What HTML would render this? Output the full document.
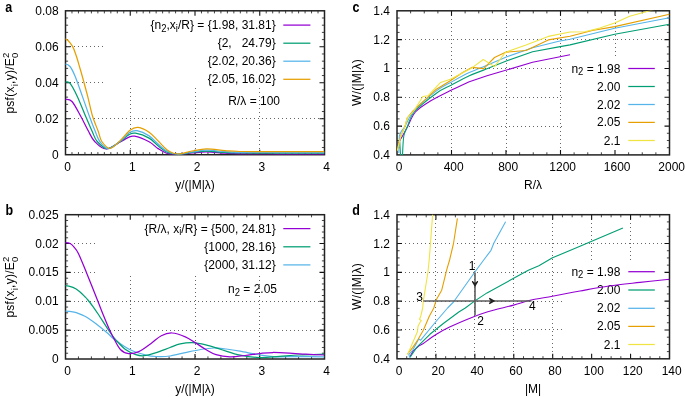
<!DOCTYPE html>
<html><head><meta charset="utf-8"><style>
html,body{margin:0;padding:0;background:#fff;}
body{width:685px;height:397px;overflow:hidden;}
svg{display:block;font-family:"Liberation Sans",sans-serif;will-change:transform;}
text{fill:#000;}
</style></head><body>
<svg width="685" height="397" viewBox="0 0 685 397">
<defs><clipPath id="ca"><rect x="65.5" y="10.8" width="259.0" height="143.89999999999998"/></clipPath>
<clipPath id="cb"><rect x="65.5" y="214.7" width="259.0" height="144.3"/></clipPath>
<clipPath id="cc"><rect x="397" y="10.8" width="272.5" height="144.1"/></clipPath>
<clipPath id="cd"><rect x="397" y="214.7" width="272.5" height="144.10000000000002"/></clipPath></defs>
<line x1="130.5" y1="88" x2="130.5" y2="154.7" stroke="#666" stroke-width="1" stroke-dasharray="1,3"/>
<line x1="195.5" y1="88" x2="195.5" y2="154.7" stroke="#666" stroke-width="1" stroke-dasharray="1,3"/>
<line x1="259.5" y1="88" x2="259.5" y2="154.7" stroke="#666" stroke-width="1" stroke-dasharray="1,3"/>
<line x1="66" y1="82.5" x2="103" y2="82.5" stroke="#666" stroke-width="1" stroke-dasharray="1,3"/>
<line x1="66" y1="46.5" x2="103" y2="46.5" stroke="#666" stroke-width="1" stroke-dasharray="1,3"/>
<line x1="66" y1="118.5" x2="324.5" y2="118.5" stroke="#666" stroke-width="1" stroke-dasharray="1,3"/>
<path d="M130.25,154.7 v-5 M130.25,10.8 v5 M195,154.7 v-5 M195,10.8 v5 M259.75,154.7 v-5 M259.75,10.8 v5 M65.5,118.72 h5 M324.5,118.72 h-5 M65.5,82.75 h5 M324.5,82.75 h-5 M65.5,46.78 h5 M324.5,46.78 h-5 " stroke="#111" stroke-width="1.1" fill="none"/>
<path d="M71.97,154.7 v-2.6 M71.97,10.8 v2.6 M78.45,154.7 v-2.6 M78.45,10.8 v2.6 M84.93,154.7 v-2.6 M84.93,10.8 v2.6 M91.4,154.7 v-2.6 M91.4,10.8 v2.6 M97.88,154.7 v-2.6 M97.88,10.8 v2.6 M104.35,154.7 v-2.6 M104.35,10.8 v2.6 M110.83,154.7 v-2.6 M110.83,10.8 v2.6 M117.3,154.7 v-2.6 M117.3,10.8 v2.6 M123.78,154.7 v-2.6 M123.78,10.8 v2.6 M136.73,154.7 v-2.6 M136.73,10.8 v2.6 M143.2,154.7 v-2.6 M143.2,10.8 v2.6 M149.68,154.7 v-2.6 M149.68,10.8 v2.6 M156.15,154.7 v-2.6 M156.15,10.8 v2.6 M162.62,154.7 v-2.6 M162.62,10.8 v2.6 M169.1,154.7 v-2.6 M169.1,10.8 v2.6 M175.58,154.7 v-2.6 M175.58,10.8 v2.6 M182.05,154.7 v-2.6 M182.05,10.8 v2.6 M188.53,154.7 v-2.6 M188.53,10.8 v2.6 M201.47,154.7 v-2.6 M201.47,10.8 v2.6 M207.95,154.7 v-2.6 M207.95,10.8 v2.6 M214.43,154.7 v-2.6 M214.43,10.8 v2.6 M220.9,154.7 v-2.6 M220.9,10.8 v2.6 M227.38,154.7 v-2.6 M227.38,10.8 v2.6 M233.85,154.7 v-2.6 M233.85,10.8 v2.6 M240.33,154.7 v-2.6 M240.33,10.8 v2.6 M246.8,154.7 v-2.6 M246.8,10.8 v2.6 M253.28,154.7 v-2.6 M253.28,10.8 v2.6 M266.23,154.7 v-2.6 M266.23,10.8 v2.6 M272.7,154.7 v-2.6 M272.7,10.8 v2.6 M279.18,154.7 v-2.6 M279.18,10.8 v2.6 M285.65,154.7 v-2.6 M285.65,10.8 v2.6 M292.12,154.7 v-2.6 M292.12,10.8 v2.6 M298.6,154.7 v-2.6 M298.6,10.8 v2.6 M305.08,154.7 v-2.6 M305.08,10.8 v2.6 M311.55,154.7 v-2.6 M311.55,10.8 v2.6 M318.03,154.7 v-2.6 M318.03,10.8 v2.6 M65.5,147.5 h2.6 M324.5,147.5 h-2.6 M65.5,140.31 h2.6 M324.5,140.31 h-2.6 M65.5,133.11 h2.6 M324.5,133.11 h-2.6 M65.5,125.92 h2.6 M324.5,125.92 h-2.6 M65.5,111.53 h2.6 M324.5,111.53 h-2.6 M65.5,104.34 h2.6 M324.5,104.34 h-2.6 M65.5,97.14 h2.6 M324.5,97.14 h-2.6 M65.5,89.94 h2.6 M324.5,89.94 h-2.6 M65.5,75.56 h2.6 M324.5,75.56 h-2.6 M65.5,68.36 h2.6 M324.5,68.36 h-2.6 M65.5,61.17 h2.6 M324.5,61.17 h-2.6 M65.5,53.97 h2.6 M324.5,53.97 h-2.6 M65.5,39.58 h2.6 M324.5,39.58 h-2.6 M65.5,32.38 h2.6 M324.5,32.38 h-2.6 M65.5,25.19 h2.6 M324.5,25.19 h-2.6 M65.5,17.99 h2.6 M324.5,17.99 h-2.6 " stroke="#444" stroke-width="1" fill="none"/>
<rect x="65.5" y="10.8" width="259" height="143.9" fill="none" stroke="#222" stroke-width="1.5"/>
<text transform="translate(58.6,158.7) scale(1,1.1)" text-anchor="end" font-size="12" font-weight="normal">0</text>
<text transform="translate(58.6,122.72) scale(1,1.1)" text-anchor="end" font-size="12" font-weight="normal">0.02</text>
<text transform="translate(58.6,86.75) scale(1,1.1)" text-anchor="end" font-size="12" font-weight="normal">0.04</text>
<text transform="translate(58.6,50.78) scale(1,1.1)" text-anchor="end" font-size="12" font-weight="normal">0.06</text>
<text transform="translate(58.6,14.8) scale(1,1.1)" text-anchor="end" font-size="12" font-weight="normal">0.08</text>
<text transform="translate(67.7,171.2) scale(1,1.1)" text-anchor="middle" font-size="12" font-weight="normal">0</text>
<text transform="translate(132.45,171.2) scale(1,1.1)" text-anchor="middle" font-size="12" font-weight="normal">1</text>
<text transform="translate(197.2,171.2) scale(1,1.1)" text-anchor="middle" font-size="12" font-weight="normal">2</text>
<text transform="translate(261.95,171.2) scale(1,1.1)" text-anchor="middle" font-size="12" font-weight="normal">3</text>
<text transform="translate(326.7,171.2) scale(1,1.1)" text-anchor="middle" font-size="12" font-weight="normal">4</text>
<line x1="130.5" y1="276" x2="130.5" y2="359" stroke="#666" stroke-width="1" stroke-dasharray="1,3"/>
<line x1="195.5" y1="276" x2="195.5" y2="359" stroke="#666" stroke-width="1" stroke-dasharray="1,3"/>
<line x1="259.5" y1="276" x2="259.5" y2="359" stroke="#666" stroke-width="1" stroke-dasharray="1,3"/>
<line x1="66" y1="272.5" x2="97" y2="272.5" stroke="#666" stroke-width="1" stroke-dasharray="1,3"/>
<line x1="66" y1="243.5" x2="97" y2="243.5" stroke="#666" stroke-width="1" stroke-dasharray="1,3"/>
<line x1="66" y1="330.5" x2="324.5" y2="330.5" stroke="#666" stroke-width="1" stroke-dasharray="1,3"/>
<line x1="66" y1="301.5" x2="324.5" y2="301.5" stroke="#666" stroke-width="1" stroke-dasharray="1,3"/>
<path d="M130.25,359 v-5 M130.25,214.7 v5 M195,359 v-5 M195,214.7 v5 M259.75,359 v-5 M259.75,214.7 v5 M65.5,330.14 h5 M324.5,330.14 h-5 M65.5,301.28 h5 M324.5,301.28 h-5 M65.5,272.42 h5 M324.5,272.42 h-5 M65.5,243.56 h5 M324.5,243.56 h-5 " stroke="#111" stroke-width="1.1" fill="none"/>
<path d="M78.45,359 v-2.6 M78.45,214.7 v2.6 M91.4,359 v-2.6 M91.4,214.7 v2.6 M104.35,359 v-2.6 M104.35,214.7 v2.6 M117.3,359 v-2.6 M117.3,214.7 v2.6 M143.2,359 v-2.6 M143.2,214.7 v2.6 M156.15,359 v-2.6 M156.15,214.7 v2.6 M169.1,359 v-2.6 M169.1,214.7 v2.6 M182.05,359 v-2.6 M182.05,214.7 v2.6 M207.95,359 v-2.6 M207.95,214.7 v2.6 M220.9,359 v-2.6 M220.9,214.7 v2.6 M233.85,359 v-2.6 M233.85,214.7 v2.6 M246.8,359 v-2.6 M246.8,214.7 v2.6 M272.7,359 v-2.6 M272.7,214.7 v2.6 M285.65,359 v-2.6 M285.65,214.7 v2.6 M298.6,359 v-2.6 M298.6,214.7 v2.6 M311.55,359 v-2.6 M311.55,214.7 v2.6 M65.5,353.23 h2.6 M324.5,353.23 h-2.6 M65.5,347.46 h2.6 M324.5,347.46 h-2.6 M65.5,341.68 h2.6 M324.5,341.68 h-2.6 M65.5,335.91 h2.6 M324.5,335.91 h-2.6 M65.5,324.37 h2.6 M324.5,324.37 h-2.6 M65.5,318.6 h2.6 M324.5,318.6 h-2.6 M65.5,312.82 h2.6 M324.5,312.82 h-2.6 M65.5,307.05 h2.6 M324.5,307.05 h-2.6 M65.5,295.51 h2.6 M324.5,295.51 h-2.6 M65.5,289.74 h2.6 M324.5,289.74 h-2.6 M65.5,283.96 h2.6 M324.5,283.96 h-2.6 M65.5,278.19 h2.6 M324.5,278.19 h-2.6 M65.5,266.65 h2.6 M324.5,266.65 h-2.6 M65.5,260.88 h2.6 M324.5,260.88 h-2.6 M65.5,255.1 h2.6 M324.5,255.1 h-2.6 M65.5,249.33 h2.6 M324.5,249.33 h-2.6 M65.5,237.79 h2.6 M324.5,237.79 h-2.6 M65.5,232.02 h2.6 M324.5,232.02 h-2.6 M65.5,226.24 h2.6 M324.5,226.24 h-2.6 M65.5,220.47 h2.6 M324.5,220.47 h-2.6 " stroke="#444" stroke-width="1" fill="none"/>
<rect x="65.5" y="214.7" width="259" height="144.3" fill="none" stroke="#222" stroke-width="1.5"/>
<text transform="translate(58.6,363) scale(1,1.1)" text-anchor="end" font-size="12" font-weight="normal">0</text>
<text transform="translate(58.6,334.14) scale(1,1.1)" text-anchor="end" font-size="12" font-weight="normal">0.005</text>
<text transform="translate(58.6,305.28) scale(1,1.1)" text-anchor="end" font-size="12" font-weight="normal">0.01</text>
<text transform="translate(58.6,276.42) scale(1,1.1)" text-anchor="end" font-size="12" font-weight="normal">0.015</text>
<text transform="translate(58.6,247.56) scale(1,1.1)" text-anchor="end" font-size="12" font-weight="normal">0.02</text>
<text transform="translate(58.6,218.7) scale(1,1.1)" text-anchor="end" font-size="12" font-weight="normal">0.025</text>
<text transform="translate(67.7,374.8) scale(1,1.1)" text-anchor="middle" font-size="12" font-weight="normal">0</text>
<text transform="translate(132.45,374.8) scale(1,1.1)" text-anchor="middle" font-size="12" font-weight="normal">1</text>
<text transform="translate(197.2,374.8) scale(1,1.1)" text-anchor="middle" font-size="12" font-weight="normal">2</text>
<text transform="translate(261.95,374.8) scale(1,1.1)" text-anchor="middle" font-size="12" font-weight="normal">3</text>
<text transform="translate(326.7,374.8) scale(1,1.1)" text-anchor="middle" font-size="12" font-weight="normal">4</text>
<line x1="451.5" y1="11" x2="451.5" y2="154.9" stroke="#666" stroke-width="1" stroke-dasharray="1,3"/>
<line x1="506.5" y1="11" x2="506.5" y2="154.9" stroke="#666" stroke-width="1" stroke-dasharray="1,3"/>
<line x1="560.5" y1="11" x2="560.5" y2="154.9" stroke="#666" stroke-width="1" stroke-dasharray="1,3"/>
<line x1="615.5" y1="11" x2="615.5" y2="58" stroke="#666" stroke-width="1" stroke-dasharray="1,3"/>
<line x1="397" y1="126.5" x2="562" y2="126.5" stroke="#666" stroke-width="1" stroke-dasharray="1,3"/>
<line x1="397" y1="97.5" x2="562" y2="97.5" stroke="#666" stroke-width="1" stroke-dasharray="1,3"/>
<line x1="397" y1="68.5" x2="562" y2="68.5" stroke="#666" stroke-width="1" stroke-dasharray="1,3"/>
<line x1="397" y1="39.5" x2="669.5" y2="39.5" stroke="#666" stroke-width="1" stroke-dasharray="1,3"/>
<path d="M451.5,154.9 v-5 M451.5,10.8 v5 M506,154.9 v-5 M506,10.8 v5 M560.5,154.9 v-5 M560.5,10.8 v5 M615,154.9 v-5 M615,10.8 v5 M397,126.08 h5 M669.5,126.08 h-5 M397,97.26 h5 M669.5,97.26 h-5 M397,68.44 h5 M669.5,68.44 h-5 M397,39.62 h5 M669.5,39.62 h-5 " stroke="#111" stroke-width="1.1" fill="none"/>
<path d="M410.62,154.9 v-2.6 M410.62,10.8 v2.6 M424.25,154.9 v-2.6 M424.25,10.8 v2.6 M437.88,154.9 v-2.6 M437.88,10.8 v2.6 M465.12,154.9 v-2.6 M465.12,10.8 v2.6 M478.75,154.9 v-2.6 M478.75,10.8 v2.6 M492.38,154.9 v-2.6 M492.38,10.8 v2.6 M519.62,154.9 v-2.6 M519.62,10.8 v2.6 M533.25,154.9 v-2.6 M533.25,10.8 v2.6 M546.88,154.9 v-2.6 M546.88,10.8 v2.6 M574.12,154.9 v-2.6 M574.12,10.8 v2.6 M587.75,154.9 v-2.6 M587.75,10.8 v2.6 M601.38,154.9 v-2.6 M601.38,10.8 v2.6 M628.62,154.9 v-2.6 M628.62,10.8 v2.6 M642.25,154.9 v-2.6 M642.25,10.8 v2.6 M655.88,154.9 v-2.6 M655.88,10.8 v2.6 M397,147.69 h2.6 M669.5,147.69 h-2.6 M397,140.49 h2.6 M669.5,140.49 h-2.6 M397,133.28 h2.6 M669.5,133.28 h-2.6 M397,118.88 h2.6 M669.5,118.88 h-2.6 M397,111.67 h2.6 M669.5,111.67 h-2.6 M397,104.47 h2.6 M669.5,104.47 h-2.6 M397,90.05 h2.6 M669.5,90.05 h-2.6 M397,82.85 h2.6 M669.5,82.85 h-2.6 M397,75.65 h2.6 M669.5,75.65 h-2.6 M397,61.23 h2.6 M669.5,61.23 h-2.6 M397,54.03 h2.6 M669.5,54.03 h-2.6 M397,46.82 h2.6 M669.5,46.82 h-2.6 M397,32.42 h2.6 M669.5,32.42 h-2.6 M397,25.21 h2.6 M669.5,25.21 h-2.6 M397,18 h2.6 M669.5,18 h-2.6 " stroke="#444" stroke-width="1" fill="none"/>
<rect x="397" y="10.8" width="272.5" height="144.1" fill="none" stroke="#222" stroke-width="1.5"/>
<text transform="translate(390,158.9) scale(1,1.1)" text-anchor="end" font-size="12" font-weight="normal">0.4</text>
<text transform="translate(390,130.08) scale(1,1.1)" text-anchor="end" font-size="12" font-weight="normal">0.6</text>
<text transform="translate(390,101.26) scale(1,1.1)" text-anchor="end" font-size="12" font-weight="normal">0.8</text>
<text transform="translate(390,72.44) scale(1,1.1)" text-anchor="end" font-size="12" font-weight="normal">1</text>
<text transform="translate(390,43.62) scale(1,1.1)" text-anchor="end" font-size="12" font-weight="normal">1.2</text>
<text transform="translate(390,14.8) scale(1,1.1)" text-anchor="end" font-size="12" font-weight="normal">1.4</text>
<text transform="translate(399.2,171.2) scale(1,1.1)" text-anchor="middle" font-size="12" font-weight="normal">0</text>
<text transform="translate(453.7,171.2) scale(1,1.1)" text-anchor="middle" font-size="12" font-weight="normal">400</text>
<text transform="translate(508.2,171.2) scale(1,1.1)" text-anchor="middle" font-size="12" font-weight="normal">800</text>
<text transform="translate(562.7,171.2) scale(1,1.1)" text-anchor="middle" font-size="12" font-weight="normal">1200</text>
<text transform="translate(617.2,171.2) scale(1,1.1)" text-anchor="middle" font-size="12" font-weight="normal">1600</text>
<text transform="translate(671.7,171.2) scale(1,1.1)" text-anchor="middle" font-size="12" font-weight="normal">2000</text>
<line x1="435.5" y1="215" x2="435.5" y2="358.8" stroke="#666" stroke-width="1" stroke-dasharray="1,3"/>
<line x1="474.5" y1="215" x2="474.5" y2="358.8" stroke="#666" stroke-width="1" stroke-dasharray="1,3"/>
<line x1="513.5" y1="215" x2="513.5" y2="358.8" stroke="#666" stroke-width="1" stroke-dasharray="1,3"/>
<line x1="552.5" y1="215" x2="552.5" y2="358.8" stroke="#666" stroke-width="1" stroke-dasharray="1,3"/>
<line x1="591.5" y1="215" x2="591.5" y2="263" stroke="#666" stroke-width="1" stroke-dasharray="1,3"/>
<line x1="630.5" y1="215" x2="630.5" y2="263" stroke="#666" stroke-width="1" stroke-dasharray="1,3"/>
<line x1="397" y1="329.5" x2="562" y2="329.5" stroke="#666" stroke-width="1" stroke-dasharray="1,3"/>
<line x1="397" y1="301.5" x2="562" y2="301.5" stroke="#666" stroke-width="1" stroke-dasharray="1,3"/>
<line x1="397" y1="272.5" x2="562" y2="272.5" stroke="#666" stroke-width="1" stroke-dasharray="1,3"/>
<line x1="397" y1="243.5" x2="669.5" y2="243.5" stroke="#666" stroke-width="1" stroke-dasharray="1,3"/>
<path d="M435.93,358.8 v-5 M435.93,214.7 v5 M474.86,358.8 v-5 M474.86,214.7 v5 M513.79,358.8 v-5 M513.79,214.7 v5 M552.71,358.8 v-5 M552.71,214.7 v5 M591.64,358.8 v-5 M591.64,214.7 v5 M630.57,358.8 v-5 M630.57,214.7 v5 M397,329.98 h5 M669.5,329.98 h-5 M397,301.16 h5 M669.5,301.16 h-5 M397,272.34 h5 M669.5,272.34 h-5 M397,243.52 h5 M669.5,243.52 h-5 " stroke="#111" stroke-width="1.1" fill="none"/>
<path d="M406.73,358.8 v-2.6 M406.73,214.7 v2.6 M416.46,358.8 v-2.6 M416.46,214.7 v2.6 M426.2,358.8 v-2.6 M426.2,214.7 v2.6 M445.66,358.8 v-2.6 M445.66,214.7 v2.6 M455.39,358.8 v-2.6 M455.39,214.7 v2.6 M465.12,358.8 v-2.6 M465.12,214.7 v2.6 M484.59,358.8 v-2.6 M484.59,214.7 v2.6 M494.32,358.8 v-2.6 M494.32,214.7 v2.6 M504.05,358.8 v-2.6 M504.05,214.7 v2.6 M523.52,358.8 v-2.6 M523.52,214.7 v2.6 M533.25,358.8 v-2.6 M533.25,214.7 v2.6 M542.98,358.8 v-2.6 M542.98,214.7 v2.6 M562.45,358.8 v-2.6 M562.45,214.7 v2.6 M572.18,358.8 v-2.6 M572.18,214.7 v2.6 M581.91,358.8 v-2.6 M581.91,214.7 v2.6 M601.38,358.8 v-2.6 M601.38,214.7 v2.6 M611.11,358.8 v-2.6 M611.11,214.7 v2.6 M620.84,358.8 v-2.6 M620.84,214.7 v2.6 M640.3,358.8 v-2.6 M640.3,214.7 v2.6 M650.04,358.8 v-2.6 M650.04,214.7 v2.6 M659.77,358.8 v-2.6 M659.77,214.7 v2.6 M397,351.6 h2.6 M669.5,351.6 h-2.6 M397,344.39 h2.6 M669.5,344.39 h-2.6 M397,337.19 h2.6 M669.5,337.19 h-2.6 M397,322.77 h2.6 M669.5,322.77 h-2.6 M397,315.57 h2.6 M669.5,315.57 h-2.6 M397,308.37 h2.6 M669.5,308.37 h-2.6 M397,293.95 h2.6 M669.5,293.95 h-2.6 M397,286.75 h2.6 M669.5,286.75 h-2.6 M397,279.55 h2.6 M669.5,279.55 h-2.6 M397,265.13 h2.6 M669.5,265.13 h-2.6 M397,257.93 h2.6 M669.5,257.93 h-2.6 M397,250.72 h2.6 M669.5,250.72 h-2.6 M397,236.31 h2.6 M669.5,236.31 h-2.6 M397,229.11 h2.6 M669.5,229.11 h-2.6 M397,221.9 h2.6 M669.5,221.9 h-2.6 " stroke="#444" stroke-width="1" fill="none"/>
<rect x="397" y="214.7" width="272.5" height="144.1" fill="none" stroke="#222" stroke-width="1.5"/>
<text transform="translate(390,362.8) scale(1,1.1)" text-anchor="end" font-size="12" font-weight="normal">0.4</text>
<text transform="translate(390,333.98) scale(1,1.1)" text-anchor="end" font-size="12" font-weight="normal">0.6</text>
<text transform="translate(390,305.16) scale(1,1.1)" text-anchor="end" font-size="12" font-weight="normal">0.8</text>
<text transform="translate(390,276.34) scale(1,1.1)" text-anchor="end" font-size="12" font-weight="normal">1</text>
<text transform="translate(390,247.52) scale(1,1.1)" text-anchor="end" font-size="12" font-weight="normal">1.2</text>
<text transform="translate(390,218.7) scale(1,1.1)" text-anchor="end" font-size="12" font-weight="normal">1.4</text>
<text transform="translate(399.2,374.8) scale(1,1.1)" text-anchor="middle" font-size="12" font-weight="normal">0</text>
<text transform="translate(438.13,374.8) scale(1,1.1)" text-anchor="middle" font-size="12" font-weight="normal">20</text>
<text transform="translate(477.06,374.8) scale(1,1.1)" text-anchor="middle" font-size="12" font-weight="normal">40</text>
<text transform="translate(515.99,374.8) scale(1,1.1)" text-anchor="middle" font-size="12" font-weight="normal">60</text>
<text transform="translate(554.91,374.8) scale(1,1.1)" text-anchor="middle" font-size="12" font-weight="normal">80</text>
<text transform="translate(593.84,374.8) scale(1,1.1)" text-anchor="middle" font-size="12" font-weight="normal">100</text>
<text transform="translate(632.77,374.8) scale(1,1.1)" text-anchor="middle" font-size="12" font-weight="normal">120</text>
<text transform="translate(671.7,374.8) scale(1,1.1)" text-anchor="middle" font-size="12" font-weight="normal">140</text>
<text transform="translate(8.7,12.2) scale(1,1.1)" text-anchor="middle" font-size="12.5" font-weight="bold">a</text>
<text transform="translate(9.3,215.2) scale(1,1.1)" text-anchor="middle" font-size="12.5" font-weight="bold">b</text>
<text transform="translate(355.9,12.2) scale(1,1.1)" text-anchor="middle" font-size="12.5" font-weight="bold">c</text>
<text transform="translate(356.1,215.2) scale(1,1.1)" text-anchor="middle" font-size="12.5" font-weight="bold">d</text>
<text transform="translate(195,189.4) scale(1,1.1)" text-anchor="middle" font-size="12" font-weight="normal">y/(|M|λ)</text>
<text transform="translate(195,392.6) scale(1,1.1)" text-anchor="middle" font-size="12" font-weight="normal">y/(|M|λ)</text>
<text transform="translate(533,189.3) scale(1,1.1)" text-anchor="middle" font-size="12" font-weight="normal">R/λ</text>
<text transform="translate(533,392.6) scale(1,1.1)" text-anchor="middle" font-size="12" font-weight="normal">|M|</text>
<text transform="translate(14.3,83) rotate(-90)" text-anchor="middle" font-size="12" letter-spacing="0.25">psf(x<tspan font-size="9.5" dy="3.5">i</tspan><tspan dy="-3.5">,y)/E</tspan><tspan font-size="9.5" dy="3.8">0</tspan><tspan font-size="9.5" dy="-9.6" dx="-5.5">2</tspan></text>
<text transform="translate(14.3,287) rotate(-90)" text-anchor="middle" font-size="12" letter-spacing="0.25">psf(x<tspan font-size="9.5" dy="3.5">i</tspan><tspan dy="-3.5">,y)/E</tspan><tspan font-size="9.5" dy="3.8">0</tspan><tspan font-size="9.5" dy="-9.6" dx="-5.5">2</tspan></text>
<text transform="translate(361,82.5) rotate(-90)" text-anchor="middle" font-size="12" letter-spacing="0.25">W/(|M|λ)</text>
<text transform="translate(361,286.5) rotate(-90)" text-anchor="middle" font-size="12" letter-spacing="0.25">W/(|M|λ)</text>
<text transform="translate(275.7,29.1) scale(1,1.1)" text-anchor="end" font-size="12" font-weight="normal">{n<tspan font-size="9.5" dy="2.5">2</tspan><tspan dy="-2.5">,x</tspan><tspan font-size="9.5" dy="2.5">i</tspan><tspan dy="-2.5">/R} = {1.98, 31.81}</tspan></text>
<line x1="283.3" y1="25.1" x2="310.4" y2="25.1" stroke="#9400d3" stroke-width="1.25"/>
<text transform="translate(275.7,47.2) scale(1,1.1)" text-anchor="end" font-size="12" font-weight="normal">{2, &#160; 24.79}</text>
<line x1="283.3" y1="43.2" x2="310.4" y2="43.2" stroke="#009e73" stroke-width="1.25"/>
<text transform="translate(275.7,65.2) scale(1,1.1)" text-anchor="end" font-size="12" font-weight="normal">{2.02, 20.36}</text>
<line x1="283.3" y1="61.2" x2="310.4" y2="61.2" stroke="#56b4e9" stroke-width="1.25"/>
<text transform="translate(275.7,83.3) scale(1,1.1)" text-anchor="end" font-size="12" font-weight="normal">{2.05, 16.02}</text>
<line x1="283.3" y1="79.3" x2="310.4" y2="79.3" stroke="#e69f00" stroke-width="1.25"/>
<text transform="translate(280,104.5) scale(1,1.1)" text-anchor="end" font-size="12" font-weight="normal">R/λ = 100</text>
<text transform="translate(275.7,232.6) scale(1,1.1)" text-anchor="end" font-size="12" font-weight="normal">{R/λ, x<tspan font-size="9.5" dy="2.5">i</tspan><tspan dy="-2.5">/R} = {500, 24.81}</tspan></text>
<line x1="283.3" y1="228.6" x2="310.4" y2="228.6" stroke="#9400d3" stroke-width="1.25"/>
<text transform="translate(275.7,250.8) scale(1,1.1)" text-anchor="end" font-size="12" font-weight="normal">{1000, 28.16}</text>
<line x1="283.3" y1="246.8" x2="310.4" y2="246.8" stroke="#009e73" stroke-width="1.25"/>
<text transform="translate(275.7,268.9) scale(1,1.1)" text-anchor="end" font-size="12" font-weight="normal">{2000, 31.12}</text>
<line x1="283.3" y1="264.9" x2="310.4" y2="264.9" stroke="#56b4e9" stroke-width="1.25"/>
<text transform="translate(277,292.8) scale(1,1.1)" text-anchor="end" font-size="12" font-weight="normal">n<tspan font-size="9.5" dy="2.5">2</tspan><tspan dy="-2.5"> = 2.05</tspan></text>
<text transform="translate(620.4,72.5) scale(1,1.1)" text-anchor="end" font-size="12" font-weight="normal">n<tspan font-size="9.5" dy="2.5">2</tspan><tspan dy="-2.5"> = 1.98</tspan></text>
<line x1="628.3" y1="68.5" x2="654.8" y2="68.5" stroke="#9400d3" stroke-width="1.25"/>
<text transform="translate(620.4,90.5) scale(1,1.1)" text-anchor="end" font-size="12" font-weight="normal">2.00</text>
<line x1="628.3" y1="86.5" x2="654.8" y2="86.5" stroke="#009e73" stroke-width="1.25"/>
<text transform="translate(620.4,108.5) scale(1,1.1)" text-anchor="end" font-size="12" font-weight="normal">2.02</text>
<line x1="628.3" y1="104.5" x2="654.8" y2="104.5" stroke="#56b4e9" stroke-width="1.25"/>
<text transform="translate(620.4,126.4) scale(1,1.1)" text-anchor="end" font-size="12" font-weight="normal">2.05</text>
<line x1="628.3" y1="122.4" x2="654.8" y2="122.4" stroke="#e69f00" stroke-width="1.25"/>
<text transform="translate(620.4,144.5) scale(1,1.1)" text-anchor="end" font-size="12" font-weight="normal">2.1</text>
<line x1="628.3" y1="140.5" x2="654.8" y2="140.5" stroke="#f0e442" stroke-width="1.25"/>
<text transform="translate(620.4,275.7) scale(1,1.1)" text-anchor="end" font-size="12" font-weight="normal">n<tspan font-size="9.5" dy="2.5">2</tspan><tspan dy="-2.5"> = 1.98</tspan></text>
<line x1="628.3" y1="271.7" x2="654.8" y2="271.7" stroke="#9400d3" stroke-width="1.25"/>
<text transform="translate(620.4,294) scale(1,1.1)" text-anchor="end" font-size="12" font-weight="normal">2.00</text>
<line x1="628.3" y1="290" x2="654.8" y2="290" stroke="#009e73" stroke-width="1.25"/>
<text transform="translate(620.4,312.3) scale(1,1.1)" text-anchor="end" font-size="12" font-weight="normal">2.02</text>
<line x1="628.3" y1="308.3" x2="654.8" y2="308.3" stroke="#56b4e9" stroke-width="1.25"/>
<text transform="translate(620.4,330.4) scale(1,1.1)" text-anchor="end" font-size="12" font-weight="normal">2.05</text>
<line x1="628.3" y1="326.4" x2="654.8" y2="326.4" stroke="#e69f00" stroke-width="1.25"/>
<text transform="translate(620.4,348.5) scale(1,1.1)" text-anchor="end" font-size="12" font-weight="normal">2.1</text>
<line x1="628.3" y1="344.5" x2="654.8" y2="344.5" stroke="#f0e442" stroke-width="1.25"/>
<path d="M50.4,116 C51.83,113.58 56.48,104.28 59,101.5 C61.52,98.72 63.33,99.3 65.5,99.3 C67.67,99.3 69.48,98.72 72,101.5 C74.52,104.28 77.85,111.03 80.6,116 C83.35,120.97 86.15,127.05 88.5,131.3 C90.85,135.55 91.8,138.55 94.7,141.5 C97.6,144.45 101.65,148.92 105.9,149 C110.15,149.08 116.52,143.9 120.2,142 C123.88,140.1 125.62,138.57 128,137.6 C130.38,136.63 130.98,135.5 134.5,136.2 C138.02,136.9 145.17,139.73 149.1,141.8 C153.03,143.87 155.08,146.65 158.1,148.6 C161.12,150.55 163.88,152.53 167.2,153.5 C170.52,154.47 173.87,154.48 178,154.4 C182.13,154.32 187.23,153.43 192,153 C196.77,152.57 201.1,151.77 206.6,151.8 C212.1,151.83 219.43,152.87 225,153.2 C230.57,153.53 230.83,153.67 240,153.8 C249.17,153.93 265.92,153.97 280,154 C294.08,154.03 317.08,154 324.5,154" fill="none" stroke="#9400d3" stroke-width="1.25" stroke-linejoin="round" stroke-linecap="butt" clip-path="url(#ca)"/>
<path d="M53.7,96.4 C54.9,94.23 58.93,85.78 60.9,83.4 C62.87,81.02 63.97,82.1 65.5,82.1 C67.03,82.1 68.13,81.02 70.1,83.4 C72.07,85.78 74.73,90.97 77.3,96.4 C79.87,101.83 83.03,110.18 85.5,116 C87.97,121.82 90.15,127.05 92.1,131.3 C94.05,135.55 94.63,138.6 97.2,141.5 C99.77,144.4 103.67,148.7 107.5,148.7 C111.33,148.7 116.62,143.85 120.2,141.5 C123.78,139.15 126.45,135.98 129,134.6 C131.55,133.22 132.15,132.62 135.5,133.2 C138.85,133.78 145.33,136 149.1,138.1 C152.87,140.2 155.08,143.45 158.1,145.8 C161.12,148.15 163.88,150.78 167.2,152.2 C170.52,153.62 173.87,154.25 178,154.3 C182.13,154.35 187.23,153.05 192,152.5 C196.77,151.95 201.1,151 206.6,151 C212.1,151 219.43,152.17 225,152.5 C230.57,152.83 230.83,152.9 240,153 C249.17,153.1 265.92,153.08 280,153.1 C294.08,153.12 317.08,153.1 324.5,153.1" fill="none" stroke="#009e73" stroke-width="1.25" stroke-linejoin="round" stroke-linecap="butt" clip-path="url(#ca)"/>
<path d="M56,76 C56.83,74.42 59.42,68.48 61,66.5 C62.58,64.52 64,64.1 65.5,64.1 C67,64.1 68.42,64.52 70,66.5 C71.58,68.48 72.93,71.02 75,76 C77.07,80.98 80.02,89.73 82.4,96.4 C84.78,103.07 87.17,110.18 89.3,116 C91.43,121.82 93.45,127.05 95.2,131.3 C96.95,135.55 97.58,138.62 99.8,141.5 C102.02,144.38 105.1,148.68 108.5,148.6 C111.9,148.52 116.62,143.72 120.2,141 C123.78,138.28 127.2,134.02 130,132.3 C132.8,130.58 133.82,130.1 137,130.7 C140.18,131.3 145.58,133.68 149.1,135.9 C152.62,138.12 155.08,141.43 158.1,144 C161.12,146.57 163.88,149.6 167.2,151.3 C170.52,153 173.87,154.08 178,154.2 C182.13,154.32 187.23,152.68 192,152 C196.77,151.32 201.1,150.15 206.6,150.1 C212.1,150.05 219.43,151.32 225,151.7 C230.57,152.08 230.83,152.27 240,152.4 C249.17,152.53 265.92,152.48 280,152.5 C294.08,152.52 317.08,152.5 324.5,152.5" fill="none" stroke="#56b4e9" stroke-width="1.25" stroke-linejoin="round" stroke-linecap="butt" clip-path="url(#ca)"/>
<path d="M54.7,56 C55.35,54.37 56.8,49.02 58.6,46.2 C60.4,43.38 63.2,39.1 65.5,39.1 C67.8,39.1 70.6,43.38 72.4,46.2 C74.2,49.02 75.05,52.37 76.3,56 C77.55,59.63 78.92,64.67 79.9,68 C80.88,71.33 80.9,71.27 82.2,76 C83.5,80.73 85.98,89.73 87.7,96.4 C89.42,103.07 90.75,110.18 92.5,116 C94.25,121.82 96.65,127.05 98.2,131.3 C99.75,135.55 99.83,138.67 101.8,141.5 C103.77,144.33 106.93,148.45 110,148.3 C113.07,148.15 116.87,143.6 120.2,140.6 C123.53,137.6 127.02,132.5 130,130.3 C132.98,128.1 134.92,127.08 138.1,127.4 C141.28,127.72 145.77,129.95 149.1,132.2 C152.43,134.45 155.08,137.95 158.1,140.9 C161.12,143.85 163.87,147.72 167.2,149.9 C170.53,152.08 173.97,153.82 178.1,154 C182.23,154.18 187.25,151.87 192,151 C196.75,150.13 201.1,148.87 206.6,148.8 C212.1,148.73 219.43,150.15 225,150.6 C230.57,151.05 230.83,151.33 240,151.5 C249.17,151.67 265.92,151.58 280,151.6 C294.08,151.62 317.08,151.6 324.5,151.6" fill="none" stroke="#e69f00" stroke-width="1.25" stroke-linejoin="round" stroke-linecap="butt" clip-path="url(#ca)"/>
<path d="M51,314.1 C51.97,313.77 54.38,312.6 56.8,312.1 C59.22,311.6 62.6,311.1 65.5,311.1 C68.4,311.1 71.78,311.6 74.2,312.1 C76.62,312.6 78.3,313.45 80,314.1 C81.7,314.75 82.83,315.18 84.4,316 C85.97,316.82 87.47,317.72 89.4,319 C91.33,320.28 93,321.37 96,323.7 C99,326.03 104.17,330.25 107.4,333 C110.63,335.75 111.52,337.37 115.4,340.2 C119.28,343.03 125.6,347.52 130.7,350 C135.8,352.48 141.75,354.02 146,355.1 C150.25,356.18 152.2,356.35 156.2,356.5 C160.2,356.65 165.15,356.65 170,356 C174.85,355.35 180.18,353.68 185.3,352.6 C190.42,351.52 195.93,350.27 200.7,349.5 C205.47,348.73 209.65,348.08 213.9,348 C218.15,347.92 221.85,348.48 226.2,349 C230.55,349.52 234.42,350.1 240,351.1 C245.58,352.1 253.78,354.05 259.7,355 C265.62,355.95 268.93,356.53 275.5,356.8 C282.07,357.07 290.93,356.6 299.1,356.6 C307.27,356.6 320.27,356.77 324.5,356.8" fill="none" stroke="#56b4e9" stroke-width="1.25" stroke-linejoin="round" stroke-linecap="butt" clip-path="url(#cb)"/>
<path d="M51.5,291.4 C52.58,290.73 55.67,288.38 58,287.4 C60.33,286.42 63,285.5 65.5,285.5 C68,285.5 70.67,286.42 73,287.4 C75.33,288.38 77.47,289.8 79.5,291.4 C81.53,293 83.8,295.57 85.2,297 C86.6,298.43 86.63,298.45 87.9,300 C89.17,301.55 91.1,303.97 92.8,306.3 C94.5,308.63 95.15,309.55 98.1,314 C101.05,318.45 107.45,328.58 110.5,333 C113.55,337.42 113.9,337.75 116.4,340.5 C118.9,343.25 122.27,347.15 125.5,349.5 C128.73,351.85 132.73,353.57 135.8,354.6 C138.87,355.63 140.5,356.03 143.9,355.7 C147.3,355.37 151.85,353.97 156.2,352.6 C160.55,351.23 166,348.95 170,347.5 C174,346.05 176.45,344.72 180.2,343.9 C183.95,343.08 188.23,342.43 192.5,342.6 C196.77,342.77 201.03,343.75 205.8,344.9 C210.57,346.05 215.4,347.8 221.1,349.5 C226.8,351.2 233.57,353.77 240,355.1 C246.43,356.43 253.13,357.3 259.7,357.5 C266.27,357.7 272.83,356.72 279.4,356.3 C285.97,355.88 291.58,355.35 299.1,355 C306.62,354.65 320.27,354.33 324.5,354.2" fill="none" stroke="#009e73" stroke-width="1.25" stroke-linejoin="round" stroke-linecap="butt" clip-path="url(#cb)"/>
<path d="M56.7,247.4 C57.38,246.75 59.33,244.3 60.8,243.5 C62.27,242.7 63.93,242.6 65.5,242.6 C67.07,242.6 68.73,242.7 70.2,243.5 C71.67,244.3 72.93,245.73 74.3,247.4 C75.67,249.07 76.38,249.33 78.4,253.5 C80.42,257.67 83.23,264.65 86.4,272.4 C89.57,280.15 94.58,292.9 97.4,300 C100.22,307.1 101.33,310.17 103.3,315 C105.27,319.83 107.48,325.17 109.2,329 C110.92,332.83 111.73,334.58 113.6,338 C115.47,341.42 117.9,346.9 120.4,349.5 C122.9,352.1 125.53,353.25 128.6,353.6 C131.67,353.95 135.05,353.3 138.8,351.6 C142.55,349.9 147.35,346.05 151.1,343.4 C154.85,340.75 157.82,337.43 161.3,335.7 C164.78,333.97 168,332.82 172,333 C176,333.18 181.38,335.15 185.3,336.8 C189.22,338.45 192.08,340.78 195.5,342.9 C198.92,345.02 202.38,347.55 205.8,349.5 C209.22,351.45 211.97,353.38 216,354.6 C220.03,355.82 225.17,356.65 230,356.8 C234.83,356.95 240,356.05 245,355.5 C250,354.95 255.35,354 260,353.5 C264.65,353 267.47,352.53 272.9,352.5 C278.33,352.47 287.13,353.02 292.6,353.3 C298.07,353.58 300.38,353.92 305.7,354.2 C311.02,354.48 321.37,354.87 324.5,355" fill="none" stroke="#9400d3" stroke-width="1.25" stroke-linejoin="round" stroke-linecap="butt" clip-path="url(#cb)"/>
<path d="M398,143.5 C398.75,142.25 400.88,138.85 402.5,136 C404.12,133.15 405.55,130.4 407.7,126.4 C409.85,122.4 411.7,116.18 415.4,112 C419.1,107.82 423.88,104.95 429.9,101.3 C435.92,97.65 444.93,93.37 451.5,90.1 C458.07,86.83 466.33,83.1 469.3,81.7 L469.3,81.7 L487,75.8 L499.7,72 L532.6,62.3 L570,54.8" fill="none" stroke="#9400d3" stroke-width="1.1" stroke-linejoin="round" stroke-linecap="butt" clip-path="url(#cc)"/>
<path d="M399.5,137.5 L400.5,155 L402.5,155 L402.5,155 C402.72,151.83 402.97,140.77 403.8,136 C404.63,131.23 405.78,130.4 407.5,126.4 C409.22,122.4 409.28,117.53 414.1,112 C418.92,106.47 430.17,97.7 436.4,93.2 C442.63,88.7 446.02,87.9 451.5,85 C456.98,82.1 463.38,78.5 469.3,75.8 C475.22,73.1 484.05,69.97 487,68.8 L487,68.8 L506.3,60.9 L532.6,51.8 L558.8,46.9 L570,44.9 L614.7,34.3 L669.5,24.3" fill="none" stroke="#009e73" stroke-width="1.1" stroke-linejoin="round" stroke-linecap="butt" clip-path="url(#cc)"/>
<path d="M398.8,153 L399.3,136 L399.3,136 C399.67,135.17 400.55,132.6 401.5,131 C402.45,129.4 403,129.65 405,126.4 C407,123.15 408.27,117.42 413.5,111.5 C418.73,105.58 430.07,95.82 436.4,90.9 C442.73,85.98 446.02,85.05 451.5,82 C456.98,78.95 463.38,75.38 469.3,72.6 C475.22,69.82 484.05,66.52 487,65.3 L487,65.3 L506.3,57 L532.6,47.8 L558.8,41.2 L570,39.2 L614.7,28.3 L669.5,17.7" fill="none" stroke="#56b4e9" stroke-width="1.1" stroke-linejoin="round" stroke-linecap="butt" clip-path="url(#cc)"/>
<path d="M397.3,150.6 L400.8,136 L405,126.4 L407.2,118 L412.8,111.2 L436.4,89.2 L451.5,80 L462.7,72.5 L471.9,67.4 L483.7,68.6 L494.5,57.5 L505.6,52.2 L526,50.5 L548.3,39.9 L570,36.2 L592.3,30.5 L614.7,26.6 L669.5,14.3" fill="none" stroke="#e69f00" stroke-width="1.1" stroke-linejoin="round" stroke-linecap="butt" clip-path="url(#cc)"/>
<path d="M397.3,150.6 L400.8,136 L405,126.4 L407.2,118 L414.1,110.5 L422.9,96.5 L428,95.8 L440.6,82.4 L450.4,79.2 L471.9,67.9 L483.3,59.5 L494.5,66.6 L505.6,52.2 L526,45 L548.3,36.4 L570,32 L584.9,31.8 L599.8,28.1 L614.7,22.9 L629.6,16.2 L648.9,11 L660,8" fill="none" stroke="#f0e442" stroke-width="1.1" stroke-linejoin="round" stroke-linecap="butt" clip-path="url(#cc)"/>
<path d="M410.1,356.6 L412.8,351.4 L418.7,346.1 L423.3,343.5 L423.3,343.5 C425.48,341.97 432.02,337.03 436.4,334.3 C440.78,331.57 444.12,329.73 449.6,327.1 C455.08,324.47 463.07,321.02 469.3,318.5 C475.53,315.98 479.62,314.23 487,312 C494.38,309.77 506.23,307.1 513.6,305.1 C520.97,303.1 524.73,301.48 531.2,300 C537.67,298.52 544.27,297.7 552.4,296.2 C560.53,294.7 570.57,292.7 580,291 C589.43,289.3 599,287.43 609,286 C619,284.57 629.92,283.52 640,282.4 C650.08,281.28 664.58,279.82 669.5,279.3" fill="none" stroke="#9400d3" stroke-width="1.1" stroke-linejoin="round" stroke-linecap="butt" clip-path="url(#cd)"/>
<path d="M410.1,357.3 L416.7,347.4 L429.9,334.3 L443,323.8 L458.8,312 L465.3,308 L474.5,301.1 L487,292.9 L513.2,278.5 L528.3,270.2 L538.9,265.7 L552.5,257.8 L580,246.3 L622.9,227.9" fill="none" stroke="#009e73" stroke-width="1.1" stroke-linejoin="round" stroke-linecap="butt" clip-path="url(#cd)"/>
<path d="M410.1,358 L408.8,354.6 L412.8,350 L418.7,338.9 L420.7,340.2 L435.1,322.5 L447.6,308 L453.5,302 L474.5,272.5 L483.7,260 L491,250.3 L493.9,243 L505.6,221.8" fill="none" stroke="#56b4e9" stroke-width="1.1" stroke-linejoin="round" stroke-linecap="butt" clip-path="url(#cd)"/>
<path d="M407.5,354 L412.8,347.4 L418,339.5 L423.3,330.3 L429.2,316.5 L433.8,308 L436.4,299.4 L441.7,290.2 L446.9,269.2 L449.6,260 L453.5,243.5 L457.4,218.3" fill="none" stroke="#e69f00" stroke-width="1.1" stroke-linejoin="round" stroke-linecap="butt" clip-path="url(#cd)"/>
<path d="M407.5,354.6 L417.4,331.7 L418.1,326 L420.3,322 L421.3,320.7 L419.5,319.3 L420.9,315.7 L422.7,308 L423.3,301.1 L427.9,272.5 L429.2,260 L430.5,243.2 L432.8,212" fill="none" stroke="#f0e442" stroke-width="1.1" stroke-linejoin="round" stroke-linecap="butt" clip-path="url(#cd)"/>
<path d="M475,272.5 V315.3 M423.3,301 H531.4" stroke="#5e5e5e" stroke-width="1.6" fill="none"/>
<path d="M472.3,281.4 L475,286 L477.7,281.4 L475,283.6 Z M489.3,298.3 L494.2,301 L489.3,303.7 L491.5,301 Z" stroke="#222" stroke-width="1.1" stroke-linejoin="miter" fill="#222"/>
<text transform="translate(472,269.6) scale(1,1.1)" text-anchor="middle" font-size="12" font-weight="normal">1</text>
<text transform="translate(480.6,325) scale(1,1.1)" text-anchor="middle" font-size="12" font-weight="normal">2</text>
<text transform="translate(419.5,300.7) scale(1,1.1)" text-anchor="middle" font-size="12" font-weight="normal">3</text>
<text transform="translate(532.4,310.2) scale(1,1.1)" text-anchor="middle" font-size="12" font-weight="normal">4</text>
</svg></body></html>
